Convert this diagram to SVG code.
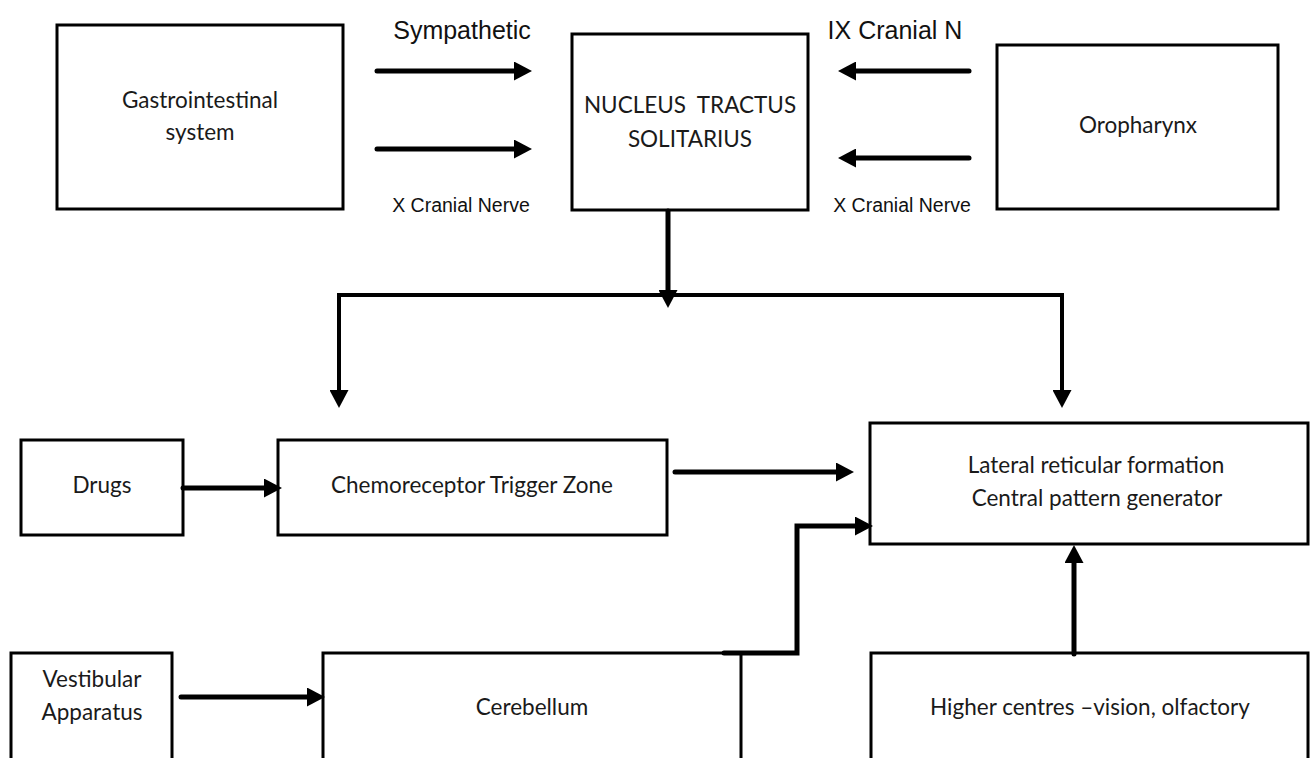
<svg xmlns="http://www.w3.org/2000/svg" width="1314" height="758" viewBox="0 0 1314 758">
<style>
.box{fill:#fff;stroke:#000;stroke-width:3}
.lbl{font-family:Lato,"Liberation Sans",sans-serif;font-size:22.5px;fill:#1a1a1a;text-anchor:middle}
.nerve{font-family:"Liberation Sans",Arial,sans-serif;fill:#111;text-anchor:middle}
.big{font-size:25px}
.small{font-size:19.5px}
.c{fill:none;stroke:#000;stroke-width:5;stroke-linecap:round;stroke-linejoin:miter}
.thin{stroke-width:4}
</style>
<defs>
<marker id="ah" markerUnits="userSpaceOnUse" viewBox="0 0 18 19" markerWidth="18" markerHeight="19" refX="1" refY="9.5" orient="auto">
<path d="M0,0 L18,9.5 L0,19 z" fill="#000"/>
</marker>
</defs>
<rect width="1314" height="758" fill="#fff"/>
<g id="gastro"><rect class="box" x="57" y="25" width="286" height="184"/><text class="lbl" x="200" y="108">Gastrointestinal</text><text class="lbl" x="200" y="140">system</text></g>
<g id="nts"><rect class="box" x="572" y="34" width="236" height="176"/><text class="lbl" x="690" y="113" xml:space="preserve">NUCLEUS  TRACTUS</text><text class="lbl" x="690" y="147">SOLITARIUS</text></g>
<g id="oropharynx"><rect class="box" x="997" y="45" width="281" height="164"/><text class="lbl" x="1138" y="133">Oropharynx</text></g>
<g id="drugs"><rect class="box" x="21" y="440" width="162" height="95"/><text class="lbl" x="102" y="493">Drugs</text></g>
<g id="ctz"><rect class="box" x="278" y="440" width="389" height="95"/><text class="lbl" x="472" y="493">Chemoreceptor Trigger Zone</text></g>
<g id="lateral"><rect class="box" x="870" y="423" width="438" height="121"/><text class="lbl" x="1096" y="473">Lateral reticular formation</text><text class="lbl" x="1097" y="506">Central pattern generator</text></g>
<g id="vestibular"><rect class="box" x="11" y="653" width="161" height="130"/><text class="lbl" x="92" y="687">Vestibular</text><text class="lbl" x="92" y="720">Apparatus</text></g>
<g id="cerebellum"><rect class="box" x="323" y="653" width="418" height="130"/><text class="lbl" x="532" y="715">Cerebellum</text></g>
<g id="higher"><rect class="box" x="871" y="653" width="437" height="130"/><text class="lbl" x="1090" y="715">Higher centres –vision, olfactory</text></g>
<g id="labels">
<text class="nerve big" x="462" y="39">Sympathetic</text>
<text class="nerve big" x="895" y="39">IX Cranial N</text>
<text class="nerve small" x="461" y="212">X Cranial Nerve</text>
<text class="nerve small" x="902" y="212">X Cranial Nerve</text>
</g>
<g id="connectors">
<path class="c" d="M377,71 H515" marker-end="url(#ah)"/>
<path class="c" d="M377,149 H515" marker-end="url(#ah)"/>
<path class="c" d="M969,71 H855" marker-end="url(#ah)"/>
<path class="c" d="M969,158 H855" marker-end="url(#ah)"/>
<path class="c" d="M668,211 V291" marker-end="url(#ah)"/>
<path class="c thin" d="M339,295 H1062" style="stroke-linecap:square"/>
<path class="c thin" d="M339,295 V391" marker-end="url(#ah)"/>
<path class="c thin" d="M1062,295 V391" marker-end="url(#ah)"/>
<path class="c" d="M183,488 H265" marker-end="url(#ah)"/>
<path class="c" d="M675,472 H837" marker-end="url(#ah)"/>
<path class="c" d="M724,653 H797 V526 H856" marker-end="url(#ah)"/>
<path class="c" d="M1074,654 V562" marker-end="url(#ah)"/>
<path class="c" d="M181,697 H308" marker-end="url(#ah)"/>
</g>
</svg>
